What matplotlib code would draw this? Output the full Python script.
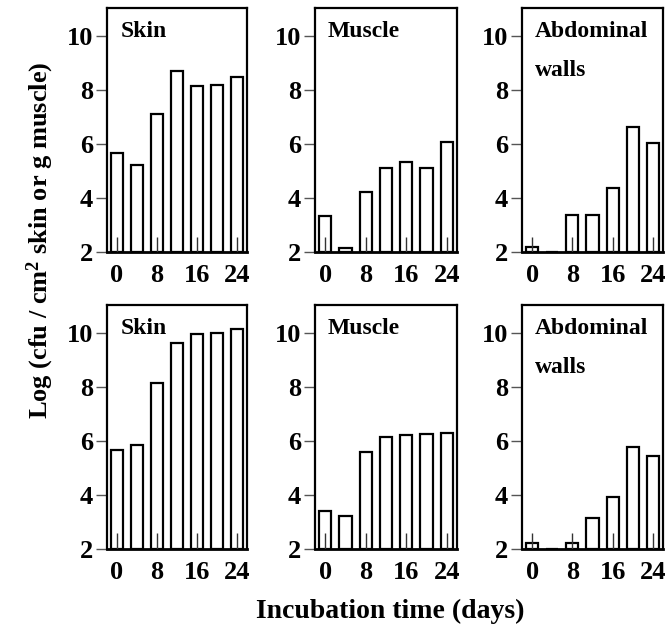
import matplotlib
matplotlib.use("Agg")
import matplotlib.pyplot as plt

plt.rcParams['font.family'] = ['Liberation Serif', 'DejaVu Serif']
plt.rcParams['font.weight'] = 'bold'
plt.rcParams['mathtext.fontset'] = 'custom'
plt.rcParams['mathtext.rm'] = 'Liberation Serif:bold'
plt.rcParams['mathtext.bf'] = 'Liberation Serif:bold'
plt.rcParams['mathtext.default'] = 'rm'

days = [0, 4, 8, 12, 16, 20, 24]
xtick_days = [0, 8, 16, 24]
yticks = [2, 4, 6, 8, 10]

skin_top = [5.66, 5.22, 7.11, 8.70, 8.15, 8.19, 8.48]
muscle_top = [3.33, 2.14, 4.22, 5.10, 5.33, 5.10, 6.09]
abdominal_top = [2.20, 2.0, 3.37, 3.37, 4.37, 6.63, 6.06]

skin_bottom = [5.67, 5.85, 8.16, 9.62, 9.96, 10.01, 10.17]
muscle_bottom = [3.38, 3.22, 5.60, 6.15, 6.22, 6.26, 6.31]
abdominal_bottom = [2.22, 2.0, 2.19, 3.14, 3.90, 5.77, 5.43]

err_top = 2.57  # small error-bar-like marks at days 0, 8, 16, 24

panels = [
    [("Skin", skin_top), ("Muscle", muscle_top), ("Abdominal\nwalls", abdominal_top)],
    [("Skin", skin_bottom), ("Muscle", muscle_bottom), ("Abdominal\nwalls", abdominal_bottom)],
]

W, H = 668, 632
fig = plt.figure(figsize=(W / 100, H / 100), dpi=100)

col_px = [(107, 247), (315, 457), (522, 663)]
row_px = [(8, 252), (305, 548.5)]

baseline = 2
for r, row in enumerate(panels):
    for c, (label, vals) in enumerate(row):
        x0, x1 = col_px[c]
        yt, yb = row_px[r]
        ax = fig.add_axes([x0 / W, (H - yb) / H, (x1 - x0) / W, (yb - yt) / H])
        heights = [v - baseline for v in vals]
        ax.bar(days, heights, bottom=baseline, width=2.4, color='white',
               edgecolor='black', linewidth=1.6, zorder=2)
        ax.vlines(xtick_days, baseline, err_top, color='#333333', linewidth=1.0, zorder=3)
        ax.set_xlim(-2, 26)
        ax.set_ylim(2, 11.05)
        ax.set_yticks(yticks)
        ax.set_xticks(xtick_days)
        ax.tick_params(axis='x', length=0, pad=9, labelsize=19)
        ax.tick_params(axis='y', length=8, width=1, color='#555555', pad=2, labelsize=19, direction='out')
        for lab in ax.get_xticklabels() + ax.get_yticklabels():
            lab.set_fontweight('bold')
        for s in ax.spines.values():
            s.set_linewidth(1.6)
        ax.spines['bottom'].set_linewidth(2.0)
        if label.startswith("Abdominal"):
            ax.text(0.09, 0.945, "Abdominal", transform=ax.transAxes, fontsize=17,
                    fontweight='bold', va='top', ha='left')
            ax.text(0.09, 0.785, "walls", transform=ax.transAxes, fontsize=17,
                    fontweight='bold', va='top', ha='left')
        else:
            ax.text(0.10 if label == "Skin" else 0.09, 0.945, label, transform=ax.transAxes,
                    fontsize=17, fontweight='bold', va='top', ha='left')

fig.text(40 / W, 1 - 240 / H, r"Log (cfu / cm$^{2}$ skin or g muscle)", rotation=90,
         ha='center', va='center', fontsize=19, fontweight='bold')
fig.text(390 / W, 1 - 611 / H, "Incubation time (days)", ha='center', va='center',
         fontsize=20, fontweight='bold')

fig.savefig("out.png", dpi=100)
